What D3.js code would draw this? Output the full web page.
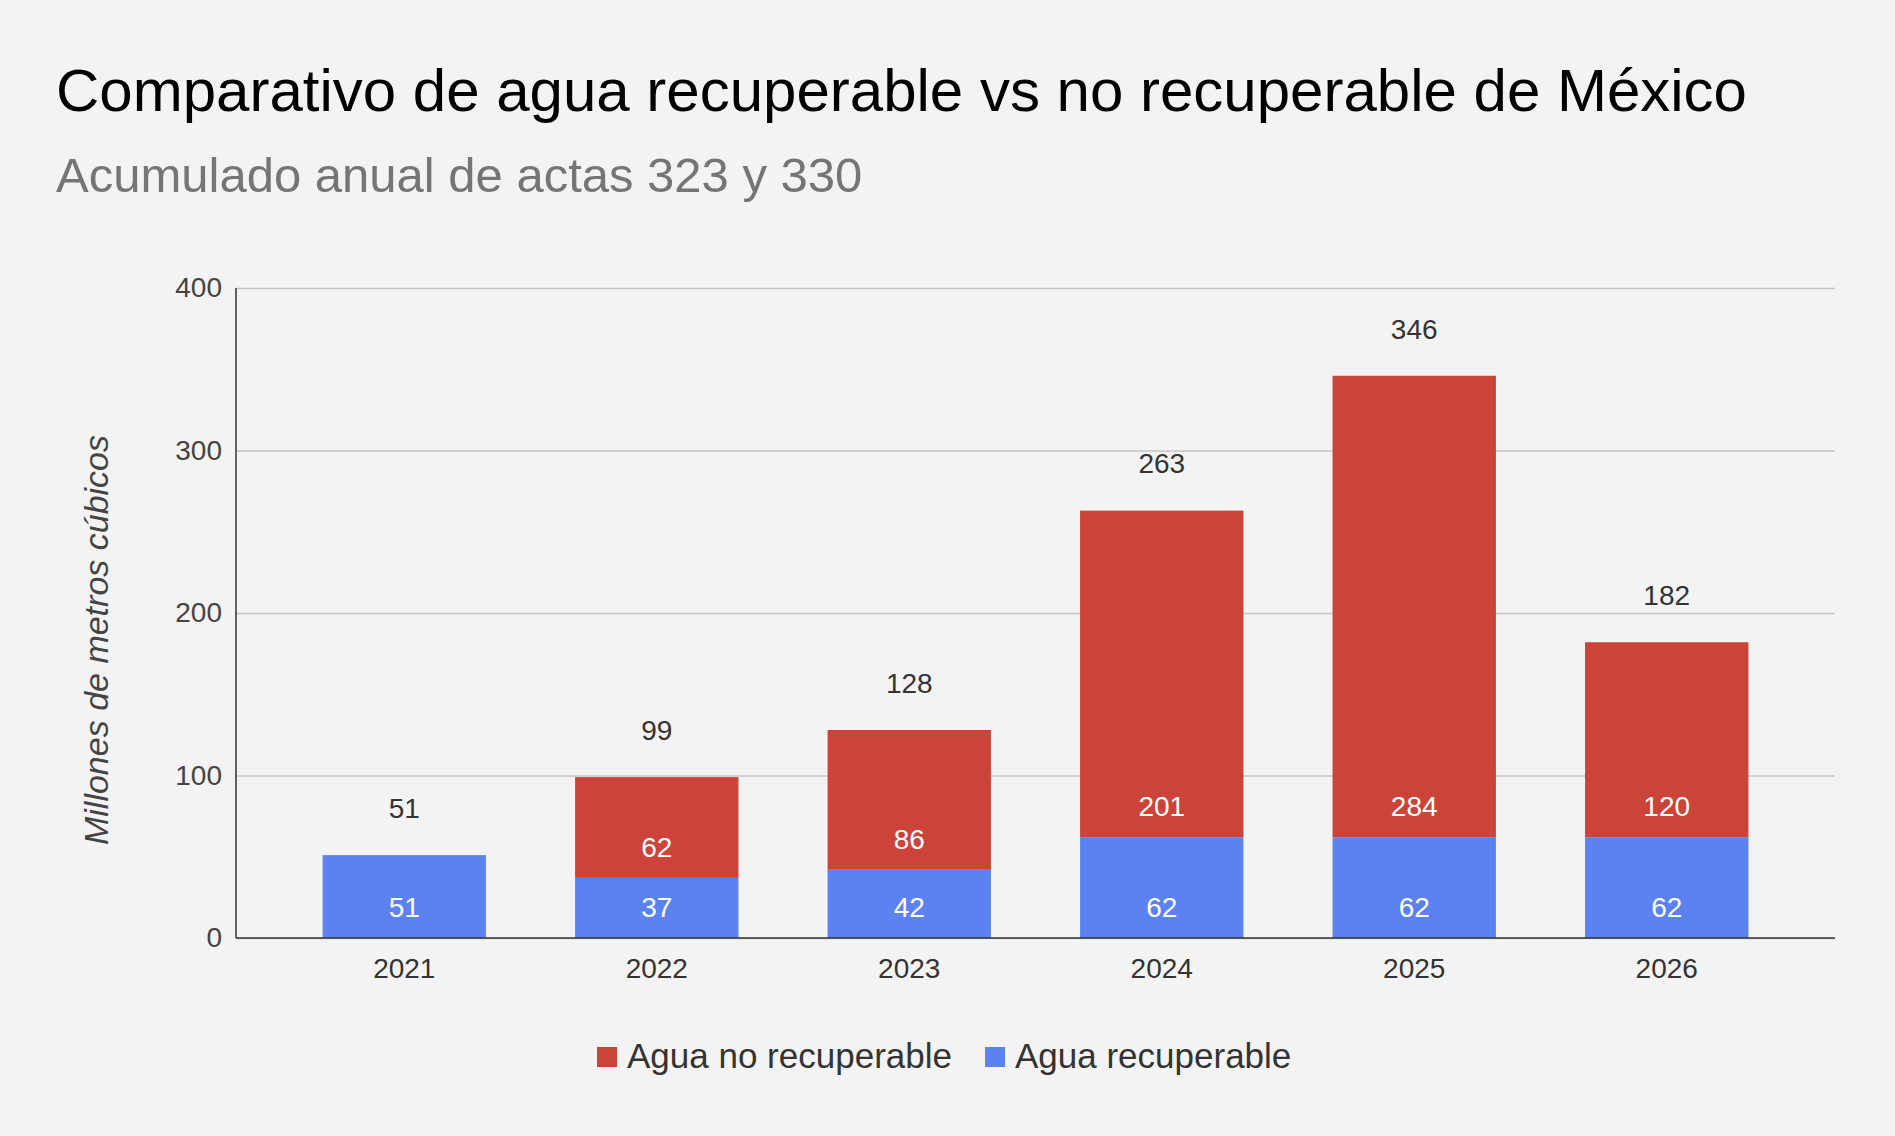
<!DOCTYPE html>
<html><head><meta charset="utf-8">
<script src="https://cdn.jsdelivr.net/npm/d3@7"></script>
<style>body{margin:0;background:#f3f3f3;font-family:Arial,"Liberation Sans",sans-serif;}</style>
</head><body><svg id="c" width="1895" height="1136"></svg>
<script>
const years = ["2021","2022","2023","2024","2025","2026"];
const recuperable = [51,37,42,62,62,62];
const noRecuperable = [0,62,86,201,284,120];
const totals = [51,99,128,263,346,182];
const yTicks = [0,100,200,300,400];

const svg = d3.select("#c");
svg.append("rect").attr("width",1895).attr("height",1136).attr("fill","#f3f3f3");
const L=236,R=1835,T=288,B=938;
const x=d3.scaleBand().domain(years).range([L,R]).paddingInner(0.353).paddingOuter(0.343);
const y=d3.scaleLinear().domain([0,400]).range([B,T]);

svg.append("text").attr("x",56).attr("y",111).attr("font-size",60).attr("fill","#000").text("Comparativo de agua recuperable vs no recuperable de México");
svg.append("text").attr("x",56).attr("y",192).attr("font-size",49).attr("fill","#757575").text("Acumulado anual de actas 323 y 330");

const ya=svg.append("g").attr("transform",`translate(${L},0)`).call(d3.axisLeft(y).tickValues(yTicks).tickSize(-(R-L)).tickPadding(14));
ya.select(".domain").remove();
ya.selectAll(".tick line").attr("stroke","#c4c4c4").attr("stroke-width",1.3);
ya.selectAll(".tick text").attr("font-size",28).attr("fill","#444").attr("font-family","Arial, Liberation Sans, sans-serif");
svg.append("line").attr("x1",L).attr("x2",L).attr("y1",T).attr("y2",B).attr("stroke","#333").attr("stroke-width",1.5);

const bw=x.bandwidth();
years.forEach((yr,i)=>{
  const x0=x(yr);
  svg.append("rect").attr("x",x0).attr("width",bw).attr("y",y(recuperable[i])).attr("height",y(0)-y(recuperable[i])).attr("fill","#5b82f0");
  if(noRecuperable[i]>0){
    svg.append("rect").attr("x",x0).attr("width",bw).attr("y",y(totals[i])).attr("height",y(recuperable[i])-y(totals[i])).attr("fill","#cc4439");
    svg.append("text").attr("x",x0+bw/2).attr("y",y(recuperable[i])-31).attr("dy","0.35em").attr("text-anchor","middle").attr("font-size",28).attr("fill","#fff").text(noRecuperable[i]);
  }
  svg.append("text").attr("x",x0+bw/2).attr("y",y(0)-31).attr("dy","0.35em").attr("text-anchor","middle").attr("font-size",28).attr("fill","#fff").text(recuperable[i]);
  svg.append("text").attr("x",x0+bw/2).attr("y",y(totals[i])-47).attr("dy","0.35em").attr("text-anchor","middle").attr("font-size",28).attr("fill","#333").text(totals[i]);
});
svg.append("line").attr("x1",L).attr("x2",R).attr("y1",B).attr("y2",B).attr("stroke","#333").attr("stroke-width",1.5);

const xa=svg.append("g").attr("transform",`translate(0,${B})`).call(d3.axisBottom(x).tickSize(0).tickPadding(20));
xa.select(".domain").remove();
xa.selectAll(".tick text").attr("font-size",28).attr("fill","#333").attr("font-family","Arial, Liberation Sans, sans-serif");

svg.append("text").attr("transform",`translate(108,640) rotate(-90)`).attr("text-anchor","middle").attr("font-size",34).attr("font-style","italic").attr("fill","#444").text("Millones de metros cúbicos");

const leg=[["Agua no recuperable","#cc4439",607],["Agua recuperable","#5b82f0",995]];
leg.forEach(([t,c,lx])=>{
  svg.append("rect").attr("x",lx-10).attr("y",1047).attr("width",20).attr("height",20).attr("fill",c);
  svg.append("text").attr("x",lx+20).attr("y",1068).attr("font-size",35).attr("fill","#333").text(t);
});
</script></body></html>
